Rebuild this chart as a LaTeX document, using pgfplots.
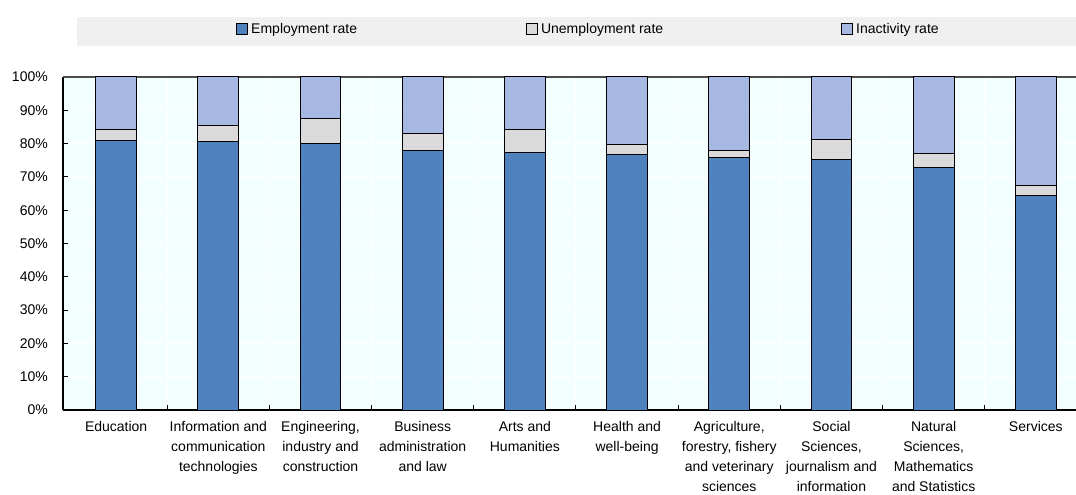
\documentclass[border=0pt]{standalone}
\usepackage{pgfplots}
\pgfplotsset{compat=1.18}
\usepackage{fontspec}
\setmainfont{Liberation Sans}

\definecolor{emp}{HTML}{4E81BD}
\definecolor{unemp}{HTML}{DADADA}
\definecolor{inact}{HTML}{A7B9E3}
\definecolor{plotbg}{HTML}{F3FFFF}
\definecolor{legbg}{HTML}{F0F0F0}

\begin{document}
\begin{tikzpicture}
\useasboundingbox (-63bp,-85bp) rectangle (1013bp,410bp);
% legend band
\fill[legbg] (14bp,364bp) rectangle (1013bp,393bp);
\begin{axis}[
  scale only axis,
  width=1024bp, height=333bp,
  ybar stacked,
  bar width=0.4,
  xmin=-0.52, xmax=9.5,
  ymin=0, ymax=100,
  axis x line*=bottom,
  axis y line*=left,
  axis line style={black, line width=1.2bp},
  axis background/.style={fill=plotbg},
  xtick={0,...,9},
  xticklabels={
    Education,
    Information and\\communication\\technologies,
    {Engineering,\\industry and\\construction},
    Business\\administration\\and law,
    Arts and\\Humanities,
    Health and\\well-being,
    {Agriculture,\\forestry, fishery\\and veterinary\\sciences},
    {Social\\Sciences,\\journalism and\\information},
    {Natural\\Sciences,\\Mathematics\\and Statistics},
    Services},
  minor xtick={0.5,1.5,...,8.5},
  major x tick style={draw=none},
  minor tick length=5bp,
  major tick length=5bp,
  tick align=inside,
  tick style={black, line width=1bp},
  xminorgrids=true,
  ymajorgrids=true,
  grid style={white, line width=1bp},
  minor grid style={white, line width=1bp},
  ytick={0,10,...,100},
  yticklabels={0\%,10\%,20\%,30\%,40\%,50\%,60\%,70\%,80\%,90\%,100\%},
  yticklabel style={font=\fontsize{14bp}{17bp}\selectfont, anchor=east, inner sep=0pt, xshift=-15bp},
  xticklabel style={font=\fontsize{14bp}{20bp}\selectfont, align=center, anchor=north, inner sep=0pt, yshift=-11bp},
  legend columns=3,
  legend style={
    at={(axis description cs:0.169,1.144)}, anchor=west,
    draw=none, fill=none, inner sep=0pt,
    font=\fontsize{14bp}{17bp}\selectfont,
    nodes={inner sep=0pt},
    /tikz/column 2/.style={column sep=169bp},
    /tikz/column 4/.style={column sep=178bp},
    /tikz/column 1/.style={column sep=3bp},
    /tikz/column 3/.style={column sep=3bp},
    /tikz/column 5/.style={column sep=3bp},
  },
  legend image code/.code={\draw[#1, line width=1bp] (0bp,-5.5bp) rectangle (11bp,5.5bp);},
]
\addplot[fill=emp, draw=black, line width=1bp] coordinates {
  (0,81.0) (1,80.6) (2,80.1) (3,77.9) (4,77.3)
  (5,76.8) (6,75.8) (7,75.1) (8,72.8) (9,64.3)};
\addlegendentry{Employment rate}
\addplot[fill=unemp, draw=black, line width=1bp] coordinates {
  (0,3.1) (1,4.7) (2,7.4) (3,5.2) (4,6.8)
  (5,2.9) (6,2.2) (7,6.2) (8,4.1) (9,3.0)};
\addlegendentry{Unemployment rate}
\addplot[fill=inact, draw=black, line width=1bp] coordinates {
  (0,15.9) (1,14.7) (2,12.5) (3,16.9) (4,15.9)
  (5,20.3) (6,22.0) (7,18.7) (8,23.1) (9,32.7)};
\addlegendentry{Inactivity rate}
% top border of the plotting area
\draw[black!70, line width=1.2bp] (rel axis cs:0,1) -- (rel axis cs:1,1);
\end{axis}
\end{tikzpicture}
\end{document}
